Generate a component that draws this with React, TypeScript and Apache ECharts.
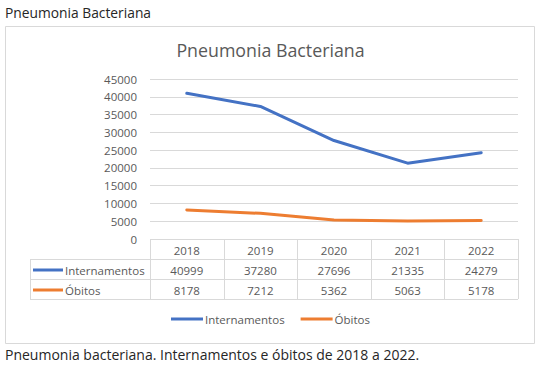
import React, { useEffect, useRef } from "react";
import * as echarts from "echarts";

const years = ["2018", "2019", "2020", "2021", "2022"];
const internamentos = [40999, 37280, 27696, 21335, 24279];
const obitos = [8178, 7212, 5362, 5063, 5178];
const yTicks = [0, 45000, 5000]; // min, max, interval

const BLUE = "#4472C4";
const ORANGE = "#ED7D31";
const GRAY = "#595959";
const LINE = "#d9d9d9";
const FONT = "'Open Sans', sans-serif";

const W = 541;
const H = 370;
const GL = 150;
const GR = 518;
const GT = 79;
const GB = 239;
const ROW_H = 20;
const TABLE_L = 30;

export default function App() {
  const ref = useRef<HTMLDivElement>(null);
  useEffect(() => {
    document.body.style.margin = "0";
    const chart = echarts.init(ref.current!, null, { renderer: "svg", width: W, height: H });
    const colW = (GR - GL) / years.length;
    const graphics: any[] = [];
    // outer texts
    graphics.push({
      type: "text",
      left: 5,
      top: 5,
      style: { text: "Pneumonia Bacteriana", font: `13.8px ${FONT}`, fill: "#262626" },
    });
    graphics.push({
      type: "text",
      left: 5,
      top: 347,
      style: {
        text: "Pneumonia bacteriana. Internamentos e óbitos de 2018 a 2022.",
        font: `14px ${FONT}`,
        fill: "#262626",
      },
    });
    // chart box
    graphics.push({
      type: "rect",
      shape: { x: 5.5, y: 26.5, width: 529, height: 317 },
      style: { fill: "none", stroke: LINE, lineWidth: 1 },
      silent: true,
    });
    // table lines
    const hl = (x1: number, x2: number, y: number) =>
      graphics.push({
        type: "line",
        shape: { x1, y1: y + 0.5, x2, y2: y + 0.5 },
        style: { stroke: LINE, lineWidth: 1 },
      });
    const vl = (x: number, y1: number, y2: number) =>
      graphics.push({
        type: "line",
        shape: { x1: Math.round(x) + 0.5, y1, x2: Math.round(x) + 0.5, y2 },
        style: { stroke: LINE, lineWidth: 1 },
      });
    hl(GL, GR, GB);
    hl(TABLE_L, GR, GB + ROW_H);
    hl(TABLE_L, GR, GB + 2 * ROW_H);
    hl(TABLE_L, GR, GB + 3 * ROW_H);
    for (let i = 0; i <= years.length; i++) vl(GL + i * colW, GB, GB + 3 * ROW_H);
    vl(TABLE_L, GB + ROW_H, GB + 3 * ROW_H);
    // table texts
    const rows = [
      { name: "Internamentos", color: BLUE, values: internamentos },
      { name: "Óbitos", color: ORANGE, values: obitos },
    ];
    years.forEach((y, i) => {
      graphics.push({
        type: "text",
        x: GL + (i + 0.5) * colW,
        y: GB + ROW_H / 2 + 1,
        style: { text: y, font: `11.5px ${FONT}`, fill: GRAY, align: "center", verticalAlign: "middle" },
      });
    });
    rows.forEach((r, ri) => {
      const cy = GB + (ri + 1.5) * ROW_H + 1;
      graphics.push({
        type: "line",
        shape: { x1: 33, y1: cy, x2: 63, y2: cy },
        style: { stroke: r.color, lineWidth: 3 },
      });
      graphics.push({
        type: "text",
        x: 65,
        y: cy,
        style: { text: r.name, font: `11.5px ${FONT}`, fill: GRAY, verticalAlign: "middle" },
      });
      r.values.forEach((v, i) => {
        graphics.push({
          type: "text",
          x: GL + (i + 0.5) * colW,
          y: cy,
          style: { text: String(v), font: `11.5px ${FONT}`, fill: GRAY, align: "center", verticalAlign: "middle" },
        });
      });
    });

    chart.setOption({
      animation: false,
      backgroundColor: "#fff",
      title: {
        text: "Pneumonia Bacteriana",
        left: "center",
        top: 36,
        textStyle: { fontFamily: FONT, fontSize: 17.8, fontWeight: "normal", color: GRAY },
      },
      grid: { left: GL, right: W - GR, top: GT, bottom: H - GB },
      xAxis: {
        type: "category",
        data: years,
        boundaryGap: true,
        axisLine: { show: false },
        axisTick: { show: false },
        axisLabel: { show: false },
      },
      yAxis: {
        type: "value",
        min: yTicks[0],
        max: yTicks[1],
        interval: yTicks[2],
        axisLine: { show: false },
        axisTick: { show: false },
        axisLabel: {
          color: GRAY,
          fontFamily: FONT,
          fontSize: 11.5,
          margin: 13,
          formatter: (v: number) => String(v),
        },
        splitLine: { lineStyle: { color: LINE, width: 1 } },
      },
      legend: {
        bottom: 40,
        left: "center",
        itemWidth: 32,
        itemHeight: 3,
        itemGap: 16,
        icon: "rect",
        textStyle: { color: GRAY, fontFamily: FONT, fontSize: 11.5, padding: [0, 0, 0, -3] },
        data: ["Internamentos", "Óbitos"],
      },
      series: [
        {
          name: "Internamentos",
          type: "line",
          data: internamentos,
          symbol: "none",
          color: BLUE,
          lineStyle: { width: 3, color: BLUE, cap: "round" },
        },
        {
          name: "Óbitos",
          type: "line",
          data: obitos,
          symbol: "none",
          color: ORANGE,
          lineStyle: { width: 3, color: ORANGE, cap: "round" },
        },
      ],
      graphic: graphics,
    });
    return () => chart.dispose();
  }, []);
  return <div ref={ref} style={{ width: W, height: H }} />;
}
